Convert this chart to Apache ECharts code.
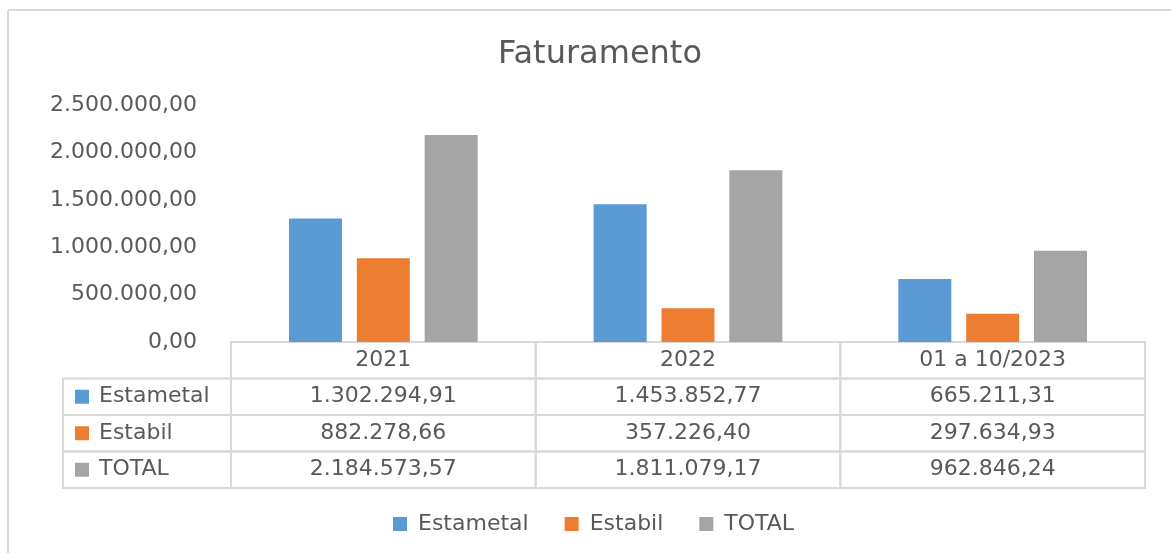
<!DOCTYPE html>
<html>
<head>
<meta charset="utf-8">
<script src="https://cdn.jsdelivr.net/npm/echarts@6/dist/echarts.min.js"></script>
<style>
  html, body { margin: 0; padding: 0; background: #fff; }
  #chart { width: 1171px; height: 553px; }
</style>
</head>
<body>
<div id="chart"></div>
<script>
// Faturamento por empresa
const categories = ['2021', '2022', '01 a 10/2023'];
const seriesNames = ['Estametal', 'Estabil', 'TOTAL'];
const estametal = [1302294.91, 1453852.77, 665211.31];
const estabil = [882278.66, 357226.40, 297634.93];
const total = [2184573.57, 1811079.17, 962846.24];

const colors = ['#5B9BD5', '#ED7D31', '#A5A5A5'];
const textColor = '#595959';
const lineColor = '#D9D9D9';
const font = '"DejaVu Sans", sans-serif';

// 1234567.8 -> 1.234.567,80
function fmtBR(v) {
    const parts = v.toFixed(2).split('.');
    return parts[0].replace(/\B(?=(\d{3})+(?!\d))/g, '.') + ',' + parts[1];
}

// cells of the data table under the chart
const tableValues = [estametal, estabil, total];
const tableCells = [];
categories.forEach((c, i) => tableCells.push({ value: [i, 0], text: c, kind: 'head' }));
tableValues.forEach((vals, r) => {
    tableCells.push({ value: [0, r + 1], text: seriesNames[r], kind: 'label', color: colors[r] });
    vals.forEach((v, i) => tableCells.push({ value: [i, r + 1], text: fmtBR(v), kind: 'cell' }));
});

const labelColWidth = 168;

function renderCell(params, api) {
    const cell = tableCells[params.dataIndex];
    const size = api.size([1, 1]);
    const center = api.coord([api.value(0), api.value(1)]);
    let x = center[0] - size[0] / 2;
    let w = size[0];
    const y = center[1] - size[1] / 2;
    const h = size[1];
    const children = [];
    if (cell.kind === 'label') {
        x = x - labelColWidth;
        w = labelColWidth;
        children.push({
            type: 'rect',
            shape: { x: x, y: y, width: w, height: h },
            style: { fill: 'none', stroke: lineColor, lineWidth: 2 }
        });
        children.push({
            type: 'rect',
            shape: { x: x + 12, y: center[1] - 7, width: 14, height: 14 },
            style: { fill: cell.color }
        });
        children.push({
            type: 'text',
            style: {
                text: cell.text, x: x + 36, y: center[1],
                fill: textColor, font: '22px ' + font,
                align: 'left', verticalAlign: 'middle'
            }
        });
    } else {
        children.push({
            type: 'rect',
            shape: { x: x, y: y, width: w, height: h },
            style: { fill: 'none', stroke: lineColor, lineWidth: 2 }
        });
        children.push({
            type: 'text',
            style: {
                text: cell.text, x: center[0], y: center[1],
                fill: textColor, font: '22px ' + font,
                align: 'center', verticalAlign: 'middle'
            }
        });
    }
    return { type: 'group', children: children };
}

const chart = echarts.init(document.getElementById('chart'));

const option = {
    backgroundColor: '#fff',
    animation: false,
    textStyle: { fontFamily: font, color: textColor },
    title: {
        text: 'Faturamento',
        left: 595,
        textAlign: 'center',
        top: 34,
        textStyle: { fontFamily: font, fontSize: 32, fontWeight: 'normal', color: textColor }
    },
    legend: {
        data: seriesNames,
        left: 388,
        top: 508,
        itemWidth: 14,
        itemHeight: 14,
        itemGap: 36,
        icon: 'rect',
        textStyle: { fontFamily: font, fontSize: 22, color: textColor, padding: [0, 0, 0, 6] }
    },
    grid: [
        { left: 231, right: 26, top: 105, bottom: 211 },
        { left: 231, right: 26, top: 342, height: 146 }
    ],
    xAxis: [
        {
            type: 'category',
            gridIndex: 0,
            data: categories,
            axisLine: { show: false },
            axisTick: { show: false },
            axisLabel: { show: false }
        },
        {
            type: 'category',
            gridIndex: 1,
            data: categories,
            show: false
        }
    ],
    yAxis: [
        {
            type: 'value',
            gridIndex: 0,
            min: 0,
            max: 2500000,
            interval: 500000,
            axisLine: { show: false },
            axisTick: { show: false },
            splitLine: { show: false },
            axisLabel: {
                margin: 34,
                fontFamily: font,
                fontSize: 22,
                color: textColor,
                formatter: v => fmtBR(v)
            }
        },
        {
            type: 'category',
            gridIndex: 1,
            inverse: true,
            data: ['', ...seriesNames],
            show: false
        }
    ],
    series: [
        { name: seriesNames[0], data: estametal, color: colors[0] },
        { name: seriesNames[1], data: estabil, color: colors[1] },
        { name: seriesNames[2], data: total, color: colors[2] }
    ].map(s => Object.assign({
        type: 'bar',
        xAxisIndex: 0,
        yAxisIndex: 0,
        barWidth: 53,
        barGap: '28%',
        silent: true
    }, s)).concat([{
        name: 'tabela',
        type: 'custom',
        xAxisIndex: 1,
        yAxisIndex: 1,
        silent: true,
        data: tableCells.map(c => c.value),
        renderItem: renderCell
    }]),
    graphic: [
        { type: 'line', shape: { x1: 8, y1: 10, x2: 1171, y2: 10 }, style: { stroke: lineColor, lineWidth: 2 } },
        { type: 'line', shape: { x1: 8, y1: 10, x2: 8, y2: 553 }, style: { stroke: lineColor, lineWidth: 2 } }
    ]
};

chart.setOption(option);
window.addEventListener('resize', () => chart.resize());
</script>
</body>
</html>
